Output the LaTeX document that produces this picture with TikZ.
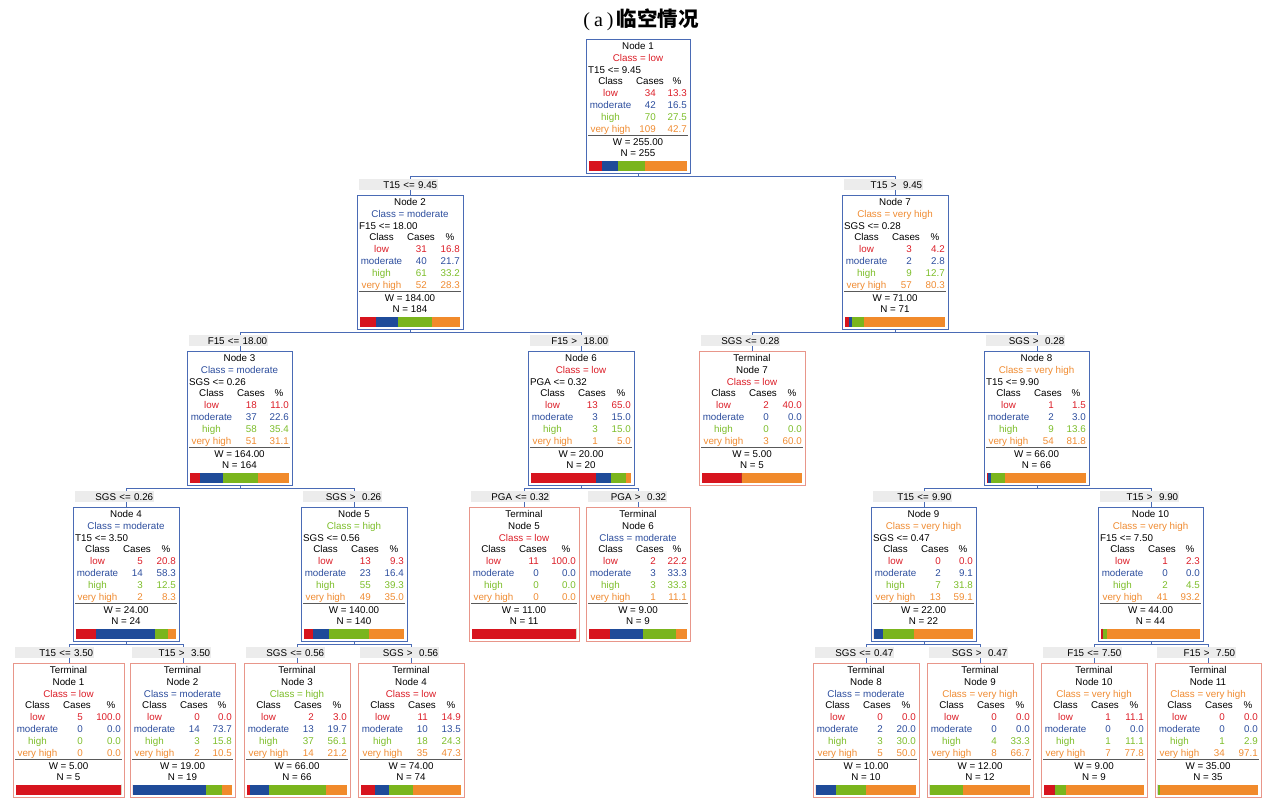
\documentclass[tikz,border=0pt]{standalone}
\usepackage{fontspec}
\setmainfont{Liberation Sans}
\newfontfamily\cjkfont{Noto Sans CJK SC}
\newfontfamily\titleserif{Liberation Serif}
\usetikzlibrary{calc}
\definecolor{cLowT}{RGB}{220,30,40}
\definecolor{cModT}{RGB}{45,78,158}
\definecolor{cHighT}{RGB}{125,190,42}
\definecolor{cVHT}{RGB}{240,140,50}
\definecolor{cLowB}{RGB}{215,20,30}
\definecolor{cModB}{RGB}{31,75,153}
\definecolor{cHighB}{RGB}{122,181,29}
\definecolor{cVHB}{RGB}{241,138,43}
\definecolor{cInt}{RGB}{74,107,181}
\definecolor{cTerm}{RGB}{232,150,138}
\definecolor{cLbl}{RGB}{236,236,236}
\tikzset{
 txt/.style={inner sep=0pt, font=\fontsize{9.8}{11}\selectfont},
 intbox/.style={draw=cInt, line width=0.9pt, inner sep=0pt, minimum height=134pt},
 termbox/.style={draw=cTerm, line width=0.9pt, inner sep=0pt, minimum height=134pt},
 conn/.style={draw=cInt, line width=0.9pt},
 sepline/.style={draw=black!65, line width=0.8pt},
 lbl/.style={fill=cLbl, inner xsep=1pt, inner ysep=0pt, minimum height=11pt, text width=77pt, align=right, font=\fontsize{9.8}{11}\selectfont},
}
\newcommand\dtbox[5]{%
 \def\bN{#1}\def\bL{#2}\def\bT{#3}\def\bW{#4}%
 \pgfmathsetmacro\bR{#2+#4}\pgfmathsetmacro\bC{#2+#4/2}%
 \node[#5, minimum width=#4pt, anchor=north west] (#1) at ({#2},{#3}) {};}
\newcommand\intlines[3]{%
 \node[txt, anchor=base] (\bN-a) at ({\bC},{\bT+10.5}) {#1};
 \node[txt, anchor=base] (\bN-b) at ({\bC},{\bT+22.3}) {#2};
 \node[txt, anchor=base west] (\bN-r) at ({\bL+2},{\bT+34.1}) {#3};}
\newcommand\termlines[2]{%
 \node[txt, anchor=base] (\bN-a) at ({\bC},{\bT+10.5}) {Terminal};
 \node[txt, anchor=base] (\bN-b) at ({\bC},{\bT+22.3}) {#1};
 \node[txt, anchor=base] (\bN-r) at ({\bC},{\bT+34.1}) {#2};}
\newcommand\crow[5]{%
 \pgfmathsetmacro\ry{\bT+45.9+11.8*#1}%
 \node[txt, anchor=base, text=#2] (\bN-c#1) at ({\bL+24.5},{\ry}) {#3};
 \node[txt, anchor=base east, text=#2] (\bN-k#1) at ({\bL+70},{\ry}) {#4};
 \node[txt, anchor=base east, text=#2] (\bN-p#1) at ({\bR-3},{\ry}) {#5};}
\newcommand\ctable[8]{%
 \pgfmathsetmacro\ry{\bT+45.9}%
 \node[txt, anchor=base] (\bN-h1) at ({\bL+24.5},{\ry}) {Class};
 \node[txt, anchor=base] (\bN-h2) at ({\bL+64},{\ry}) {Cases};
 \node[txt, anchor=base] (\bN-h3) at ({\bR-13},{\ry}) {\%};
 \crow{1}{cLowT}{low}{#1}{#2}%
 \crow{2}{cModT}{moderate}{#3}{#4}%
 \crow{3}{cHighT}{high}{#5}{#6}%
 \crow{4}{cVHT}{very high}{#7}{#8}}
\newcommand\cfoot[6]{%
 \draw[sepline] ({\bL+2},{\bT+96}) -- ({\bR-2},{\bT+96});
 \node[txt, anchor=base] (\bN-w) at ({\bC},{\bT+106}) {W = #1};
 \node[txt, anchor=base] (\bN-nn) at ({\bC},{\bT+117.6}) {N = #2};
 \pgfmathsetmacro\xa{\bL+2.5}\pgfmathsetmacro\bw{\bW-5.5}%
 \pgfmathsetmacro\xb{\xa+\bw*#3/100}%
 \pgfmathsetmacro\xc{\xb+\bw*#4/100}%
 \pgfmathsetmacro\xd{\xc+\bw*#5/100}%
 \pgfmathsetmacro\xe{\bR-3}%
 \fill[cLowB] ({\xa},{\bT+121.5}) rectangle ({\xb},{\bT+131.5});
 \fill[cModB] ({\xb},{\bT+121.5}) rectangle ({\xc},{\bT+131.5});
 \fill[cHighB] ({\xc},{\bT+121.5}) rectangle ({\xd},{\bT+131.5});
 \fill[cVHB] ({\xd},{\bT+121.5}) rectangle ({\xe},{\bT+131.5});}
\newcommand\dsplit[5]{%
 \coordinate (#1-bus) at ($(#1.south)+(0,3)$);
 \draw[conn] (#1.south) -- (#1-bus);
 \draw[conn] (#2.north) -- (#2.north |- #1-bus) -- (#3.north |- #1-bus) -- (#3.north);
 \node[lbl, anchor=north west] (#2-lbl) at ($(#2.north west)+(2,-16)$) {#4};
 \node[lbl, anchor=north west] (#3-lbl) at ($(#3.north west)+(2,-16)$) {#5};}
\newcommand\cl[1]{\textcolor{cLowT}{#1}}
\newcommand\cm[1]{\textcolor{cModT}{#1}}
\newcommand\ch[1]{\textcolor{cHighT}{#1}}
\newcommand\cv[1]{\textcolor{cVHT}{#1}}
\begin{document}
\begin{tikzpicture}[x=1pt,y=-1pt]
\useasboundingbox (0,0) rectangle (1267,798);
\fill[white] (0,0) rectangle (1267,798);
\node[inner sep=0pt, anchor=center] (title) at (641,20) {{\titleserif\fontsize{20}{20}\selectfont (\hspace{4pt}a\hspace{4pt})}\hspace{3pt}{\cjkfont\bfseries\fontsize{20.5}{20.5}\selectfont 临空情况}};
% level 0
\dtbox{n1}{586}{39}{104}{intbox}\intlines{Node 1}{\cl{Class = low}}{T15 <= 9.45}
\ctable{34}{13.3}{42}{16.5}{70}{27.5}{109}{42.7}\cfoot{255.00}{255}{13.3}{16.5}{27.5}{42.7}
% level 1
\dtbox{n2}{357}{195}{106}{intbox}\intlines{Node 2}{\cm{Class = moderate}}{F15 <= 18.00}
\ctable{31}{16.8}{40}{21.7}{61}{33.2}{52}{28.3}\cfoot{184.00}{184}{16.8}{21.7}{33.2}{28.3}
\dtbox{n7}{842}{195}{106}{intbox}\intlines{Node 7}{\cv{Class = very high}}{SGS <= 0.28}
\ctable{3}{4.2}{2}{2.8}{9}{12.7}{57}{80.3}\cfoot{71.00}{71}{4.2}{2.8}{12.7}{80.3}
% level 2
\dtbox{n3}{187}{351}{105}{intbox}\intlines{Node 3}{\cm{Class = moderate}}{SGS <= 0.26}
\ctable{18}{11.0}{37}{22.6}{58}{35.4}{51}{31.1}\cfoot{164.00}{164}{11.0}{22.6}{35.4}{31.1}
\dtbox{n6}{528}{351}{106}{intbox}\intlines{Node 6}{\cl{Class = low}}{PGA <= 0.32}
\ctable{13}{65.0}{3}{15.0}{3}{15.0}{1}{5.0}\cfoot{20.00}{20}{65.0}{15.0}{15.0}{5.0}
\dtbox{t7}{699}{351}{106}{termbox}\termlines{Node 7}{\cl{Class = low}}
\ctable{2}{40.0}{0}{0.0}{0}{0.0}{3}{60.0}\cfoot{5.00}{5}{40.0}{0.0}{0.0}{60.0}
\dtbox{n8}{984}{351}{105}{intbox}\intlines{Node 8}{\cv{Class = very high}}{T15 <= 9.90}
\ctable{1}{1.5}{2}{3.0}{9}{13.6}{54}{81.8}\cfoot{66.00}{66}{1.5}{3.0}{13.6}{81.9}
% level 3
\dtbox{n4}{73}{507}{106}{intbox}\intlines{Node 4}{\cm{Class = moderate}}{T15 <= 3.50}
\ctable{5}{20.8}{14}{58.3}{3}{12.5}{2}{8.3}\cfoot{24.00}{24}{20.8}{58.3}{12.5}{8.4}
\dtbox{n5}{301}{507}{106}{intbox}\intlines{Node 5}{\ch{Class = high}}{SGS <= 0.56}
\ctable{13}{9.3}{23}{16.4}{55}{39.3}{49}{35.0}\cfoot{140.00}{140}{9.3}{16.4}{39.3}{35.0}
\dtbox{t5}{469}{507}{110}{termbox}\termlines{Node 5}{\cl{Class = low}}
\ctable{11}{100.0}{0}{0.0}{0}{0.0}{0}{0.0}\cfoot{11.00}{11}{100}{0}{0}{0}
\dtbox{t6}{586}{507}{104}{termbox}\termlines{Node 6}{\cm{Class = moderate}}
\ctable{2}{22.2}{3}{33.3}{3}{33.3}{1}{11.1}\cfoot{9.00}{9}{22.2}{33.3}{33.3}{11.1}
\dtbox{n9}{871}{507}{105}{intbox}\intlines{Node 9}{\cv{Class = very high}}{SGS <= 0.47}
\ctable{0}{0.0}{2}{9.1}{7}{31.8}{13}{59.1}\cfoot{22.00}{22}{0}{9.1}{31.8}{59.1}
\dtbox{n10}{1098}{507}{105}{intbox}\intlines{Node 10}{\cv{Class = very high}}{F15 <= 7.50}
\ctable{1}{2.3}{0}{0.0}{2}{4.5}{41}{93.2}\cfoot{44.00}{44}{2.3}{0}{4.5}{93.2}
% level 4
\dtbox{t1}{13}{663}{111}{termbox}\termlines{Node 1}{\cl{Class = low}}
\ctable{5}{100.0}{0}{0.0}{0}{0.0}{0}{0.0}\cfoot{5.00}{5}{100}{0}{0}{0}
\dtbox{t2}{130}{663}{105}{termbox}\termlines{Node 2}{\cm{Class = moderate}}
\ctable{0}{0.0}{14}{73.7}{3}{15.8}{2}{10.5}\cfoot{19.00}{19}{0}{73.7}{15.8}{10.5}
\dtbox{t3}{244}{663}{106}{termbox}\termlines{Node 3}{\ch{Class = high}}
\ctable{2}{3.0}{13}{19.7}{37}{56.1}{14}{21.2}\cfoot{66.00}{66}{3.0}{19.7}{56.1}{21.2}
\dtbox{t4}{358}{663}{106}{termbox}\termlines{Node 4}{\cl{Class = low}}
\ctable{11}{14.9}{10}{13.5}{18}{24.3}{35}{47.3}\cfoot{74.00}{74}{14.9}{13.5}{24.3}{47.3}
\dtbox{t8}{813}{663}{106}{termbox}\termlines{Node 8}{\cm{Class = moderate}}
\ctable{0}{0.0}{2}{20.0}{3}{30.0}{5}{50.0}\cfoot{10.00}{10}{0}{20.0}{30.0}{50.0}
\dtbox{t9}{927}{663}{106}{termbox}\termlines{Node 9}{\cv{Class = very high}}
\ctable{0}{0.0}{0}{0.0}{4}{33.3}{8}{66.7}\cfoot{12.00}{12}{0}{0}{33.3}{66.7}
\dtbox{t10}{1041}{663}{106}{termbox}\termlines{Node 10}{\cv{Class = very high}}
\ctable{1}{11.1}{0}{0.0}{1}{11.1}{7}{77.8}\cfoot{9.00}{9}{11.1}{0}{11.1}{77.8}
\dtbox{t11}{1155}{663}{106}{termbox}\termlines{Node 11}{\cv{Class = very high}}
\ctable{0}{0.0}{0}{0.0}{1}{2.9}{34}{97.1}\cfoot{35.00}{35}{0}{0}{2.9}{97.1}
% splits
\dsplit{n1}{n2}{n7}{T15 <= 9.45}{T15 >~ 9.45}
\dsplit{n2}{n3}{n6}{F15 <= 18.00}{F15 >~ 18.00}
\dsplit{n7}{t7}{n8}{SGS <= 0.28}{SGS >~ 0.28}
\dsplit{n3}{n4}{n5}{SGS <= 0.26}{SGS >~ 0.26}
\dsplit{n6}{t5}{t6}{PGA <= 0.32}{PGA >~ 0.32}
\dsplit{n8}{n9}{n10}{T15 <= 9.90}{T15 >~ 9.90}
\dsplit{n4}{t1}{t2}{T15 <= 3.50}{T15 >~ 3.50}
\dsplit{n5}{t3}{t4}{SGS <= 0.56}{SGS >~ 0.56}
\dsplit{n9}{t8}{t9}{SGS <= 0.47}{SGS >~ 0.47}
\dsplit{n10}{t10}{t11}{F15 <= 7.50}{F15 >~ 7.50}
\end{tikzpicture}
\end{document}
